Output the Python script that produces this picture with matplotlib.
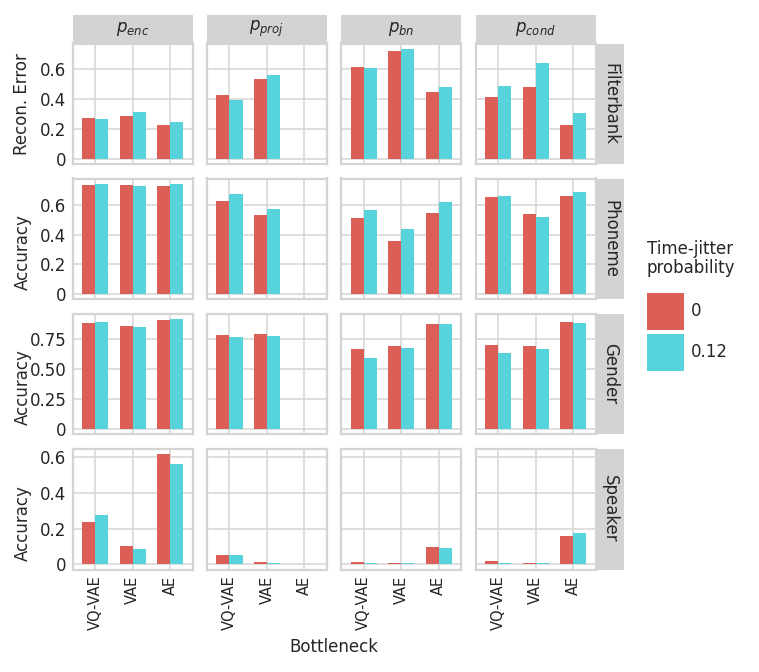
import numpy as np
import matplotlib
matplotlib.use("Agg")
import matplotlib.pyplot as plt

nan = np.nan

components = [r"$p_{enc}$", r"$p_{proj}$", r"$p_{bn}$", r"$p_{cond}$"]
bottlenecks = ["VQ-VAE", "VAE", "AE"]
tasks = ["Filterbank", "Phoneme", "Gender", "Speaker"]
ylabels = ["Recon. Error", "Accuracy", "Accuracy", "Accuracy"]
jitter_labels = ["0", "0.12"]

# rows: component (enc, proj, bn, cond); columns: VQ-VAE, VAE, AE
filterbank_0 = [[0.274, 0.287, 0.224], [0.427, 0.532, nan], [0.613, 0.718, 0.445], [0.413, 0.480, 0.226]]
filterbank_12 = [[0.267, 0.314, 0.243], [0.393, 0.559, nan], [0.602, 0.732, 0.476], [0.487, 0.640, 0.305]]
phoneme_0 = [[0.737, 0.737, 0.730], [0.630, 0.532, nan], [0.516, 0.359, 0.546], [0.657, 0.544, 0.660]]
phoneme_12 = [[0.745, 0.732, 0.745], [0.677, 0.573, nan], [0.571, 0.441, 0.623], [0.664, 0.521, 0.689]]
gender_0 = [[0.888, 0.860, 0.910], [0.787, 0.796, nan], [0.669, 0.691, 0.879], [0.702, 0.694, 0.894]]
gender_12 = [[0.893, 0.849, 0.916], [0.770, 0.776, nan], [0.596, 0.677, 0.879], [0.638, 0.666, 0.888]]
speaker_0 = [[0.239, 0.102, 0.617], [0.049, 0.013, nan], [0.009, 0.006, 0.096], [0.015, 0.006, 0.158]]
speaker_12 = [[0.275, 0.083, 0.564], [0.050, 0.008, nan], [0.005, 0.004, 0.090], [0.006, 0.003, 0.175]]

yticks = [[0, 0.2, 0.4, 0.6], [0, 0.2, 0.4, 0.6], [0, 0.25, 0.5, 0.75], [0, 0.2, 0.4, 0.6]]
yticklabels = [["0", "0.2", "0.4", "0.6"], ["0", "0.2", "0.4", "0.6"],
               ["0", "0.25", "0.50", "0.75"], ["0", "0.2", "0.4", "0.6"]]

data = [(filterbank_0, filterbank_12), (phoneme_0, phoneme_12),
        (gender_0, gender_12), (speaker_0, speaker_12)]

red = "#db5f57"
cyan = "#57d3db"
grid_col = "#d4d4d4"
strip_col = "#d3d3d3"
text_col = "#262626"

W, H = 759, 672
plt.rcParams["font.family"] = "DejaVu Sans"
fig = plt.figure(figsize=(W / 100, H / 100), dpi=100)


def px(x0, y0, w, h):
    return [x0 / W, 1 - (y0 + h) / H, w / W, h / H]


col_left = [72.7, 207.0, 341.3, 475.7]
row_top = [43.5, 178.5, 313.8, 449.0]
label_shift = [0, 13.5, 13.5, 13.5]
pw, ph = 120.0, 120.5

x = np.arange(3)
bw = 0.35
bars = None
for r in range(4):
    d0, d12 = data[r]
    ymax = np.nanmax(np.array([d0, d12]))
    for c in range(4):
        ax = fig.add_axes(px(col_left[c], row_top[r], pw, ph))
        b0 = ax.bar(x - bw / 2, d0[c], bw, color=red, zorder=3)
        b1 = ax.bar(x + bw / 2, d12[c], bw, color=cyan, zorder=3)
        bars = (b0, b1)
        ax.set_xlim(-0.6, 2.6)
        ax.set_ylim(-0.05 * ymax, 1.05 * ymax)
        ax.set_xticks(x)
        ax.set_yticks(yticks[r])
        ax.grid(True, color=grid_col, lw=1.1, zorder=0)
        ax.set_axisbelow(True)
        for s in ax.spines.values():
            s.set_color(grid_col)
            s.set_linewidth(1.6)
        ax.tick_params(length=0, colors=text_col)
        if c == 0:
            ax.set_yticklabels(yticklabels[r], fontsize=12, color=text_col)
            ax.tick_params(axis="y", pad=4.5)
        else:
            ax.set_yticklabels([])
        if r == 3:
            ax.set_xticklabels(bottlenecks, rotation=90, fontsize=10.5, color=text_col)
            ax.tick_params(axis="x", pad=4.5)
        else:
            ax.set_xticklabels([])

        if r == 0:
            sax = fig.add_axes(px(col_left[c], 15.0, pw, 28.5))
            sax.set_facecolor(strip_col)
            sax.set_xticks([])
            sax.set_yticks([])
            for s in sax.spines.values():
                s.set_visible(False)
            sax.text(0.5, 0.5, components[c], ha="center", va="center",
                     fontsize=12, color=text_col, transform=sax.transAxes)
        if c == 3:
            sax = fig.add_axes(px(595.7, row_top[r], 28.5, ph))
            sax.set_facecolor(strip_col)
            sax.set_xticks([])
            sax.set_yticks([])
            for s in sax.spines.values():
                s.set_visible(False)
            sax.text(0.5, 0.5, tasks[r], ha="center", va="center", rotation=-90,
                     fontsize=12, color=text_col, transform=sax.transAxes)

    fig.text(22.5 / W, 1 - (row_top[r] + ph / 2 + label_shift[r]) / H, ylabels[r],
             rotation=90, ha="center", va="center", fontsize=12, color=text_col)

fig.text(334 / W, 1 - 647 / H, "Bottleneck", ha="center", va="center",
         fontsize=12, color=text_col)

fig.text(646.7 / W, 1 - 240 / H, "Time-jitter\nprobability", ha="left", va="top",
         fontsize=12, color=text_col, linespacing=1.05)
fig.legend(bars, jitter_labels, loc="upper left",
           bbox_to_anchor=(646.7 / W, 1 - 292.7 / H), frameon=False,
           borderpad=0, borderaxespad=0, fontsize=12,
           handlelength=2.24, handleheight=3.04, labelspacing=0.26,
           handletextpad=0.4, labelcolor=text_col)

fig.savefig("out.png", dpi=100)
